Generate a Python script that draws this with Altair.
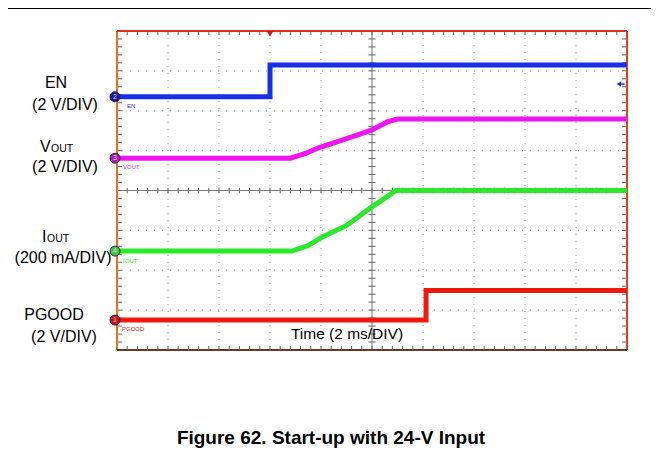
import altair as alt
import pandas as pd
import numpy as np

# ---- trace data (time in divisions of 2 ms, level in screen divisions) ----
channels = ["EN", "VOUT", "IOUT", "PGOOD"]
colors = ["#1530e6", "#f014f0", "#2ce82c", "#ee1a10"]
marker_colors = ["#1a1aa0", "#a020b0", "#3cc83c", "#c01818"]
marker_digits = ["2", "3", "4", "1"]

en_t = [0.0, 3.0, 3.0, 10.0]
en_v = [6.35, 6.35, 7.15, 7.15]

vout_t = [0.0, 3.40, 3.70, 3.95, 4.55, 5.00, 5.30, 5.50, 10.0]
vout_v = [4.81, 4.81, 4.93, 5.07, 5.32, 5.52, 5.72, 5.79, 5.79]

iout_t = [0.0, 3.43, 3.75, 4.02, 4.51, 5.00, 5.29, 5.47, 10.0]
iout_v = [2.48, 2.48, 2.62, 2.83, 3.13, 3.59, 3.84, 4.00, 4.00]

pg_t = [0.0, 6.06, 6.06, 10.0]
pg_v = [0.75, 0.75, 1.49, 1.49]

rows = []
for name, ts, vs in [("EN", en_t, en_v), ("VOUT", vout_t, vout_v),
                     ("IOUT", iout_t, iout_v), ("PGOOD", pg_t, pg_v)]:
    for i, (t, v) in enumerate(zip(ts, vs)):
        rows.append({"ch": name, "t": t, "v": v, "i": i})
traces = pd.DataFrame(rows)

start_levels = pd.DataFrame({"ch": channels,
                             "v": [en_v[0], vout_v[0], iout_v[0], pg_v[0]],
                             "d": marker_digits})

W, H = 510, 319
X = alt.Scale(domain=[0, 10], nice=False, zero=False)
Y = alt.Scale(domain=[0, 8], nice=False, zero=False)
CH = alt.Scale(domain=channels, range=colors)
MK = alt.Scale(domain=channels, range=marker_colors)

one = pd.DataFrame({"a": [0]})

# ---- graticule ----
gx = pd.DataFrame({"t": [1, 2, 3, 4, 6, 7, 8, 9]})
gy = pd.DataFrame({"v": [1, 2, 3, 5, 6, 7]})
grid_v = alt.Chart(gx).mark_rule(color="#a0a0a0", strokeDash=[1, 6], strokeWidth=1).encode(
    x=alt.X("t:Q", scale=X, axis=None))
grid_h = alt.Chart(gy).mark_rule(color="#a0a0a0", strokeDash=[1, 7], strokeWidth=1).encode(
    y=alt.Y("v:Q", scale=Y, axis=None))
center_v = alt.Chart(pd.DataFrame({"t": [5]})).mark_rule(color="#777777", strokeWidth=1).encode(
    x=alt.X("t:Q", scale=X, axis=None))
center_h = alt.Chart(pd.DataFrame({"v": [4]})).mark_rule(color="#777777", strokeWidth=1).encode(
    y=alt.Y("v:Q", scale=Y, axis=None))

segs = []
for k in np.arange(0.2, 10.0, 0.2):
    segs.append({"x": k, "x2": k, "y": 3.93, "y2": 4.07})
    segs.append({"x": k, "x2": k, "y": 7.9, "y2": 8.0})
    segs.append({"x": k, "x2": k, "y": 0.0, "y2": 0.1})
for k in np.arange(0.2, 8.0, 0.2):
    segs.append({"x": 4.93, "x2": 5.07, "y": k, "y2": k})
    segs.append({"x": 0.0, "x2": 0.1, "y": k, "y2": k})
    segs.append({"x": 9.9, "x2": 10.0, "y": k, "y2": k})
ticks = alt.Chart(pd.DataFrame(segs)).mark_rule(color="#666666", strokeWidth=1).encode(
    x=alt.X("x:Q", scale=X, axis=None), x2="x2:Q",
    y=alt.Y("y:Q", scale=Y, axis=None), y2="y2:Q")

# ---- frame ----
def edge(color, **enc):
    return alt.Chart(one).mark_rule(color=color, strokeWidth=2).encode(**enc)

frame = [
    edge("#e8701e", x=alt.value(0), y=alt.value(0), y2=alt.value(H)),
    edge("#e0301c", x=alt.value(0), x2=alt.value(W), y=alt.value(0)),
    edge("#e0401c", x=alt.value(W), y=alt.value(0), y2=alt.value(H)),
    edge("#6a3a20", x=alt.value(0), x2=alt.value(W), y=alt.value(H)),
]

# ---- traces ----
lines = alt.Chart(traces).mark_line(strokeWidth=5, interpolate="linear").encode(
    x=alt.X("t:Q", scale=X, axis=None),
    y=alt.Y("v:Q", scale=Y, axis=None),
    color=alt.Color("ch:N", scale=CH, legend=None),
    detail="ch:N",
    order="i:Q")

markers = alt.Chart(start_levels).mark_point(filled=True, size=100, opacity=1, shape="circle",
                                             stroke="#402040", strokeWidth=1).encode(
    x=alt.value(-2), y=alt.Y("v:Q", scale=Y, axis=None),
    fill=alt.Fill("ch:N", scale=MK, legend=None))
marker_txt = alt.Chart(start_levels).mark_text(fontSize=7, color="#dddddd", font="Liberation Sans").encode(
    x=alt.value(-2), y=alt.Y("v:Q", scale=Y, axis=None), text="d:N")

trig = alt.Chart(pd.DataFrame({"t": [en_t[1]]})).mark_point(
    shape="triangle-down", filled=True, size=40, color="#e01010", opacity=1).encode(
    x=alt.X("t:Q", scale=X, axis=None), y=alt.value(3))
arrow = alt.Chart(pd.DataFrame({"t": [9.84], "v": [6.67]})).mark_point(
    shape="triangle-left", filled=True, size=28, color="#2030e0", opacity=1).encode(
    x=alt.X("t:Q", scale=X, axis=None), y=alt.Y("v:Q", scale=Y, axis=None))
arrow_tail = alt.Chart(pd.DataFrame({"t": [9.84], "t2": [9.95], "v": [6.67]})).mark_rule(
    color="#2030e0", strokeWidth=1.5).encode(
    x=alt.X("t:Q", scale=X, axis=None), x2="t2:Q", y=alt.Y("v:Q", scale=Y, axis=None))

# ---- text ----
def label(txt, x, y, size=16, align="center", color="black", weight="normal", baseline="alphabetic"):
    return alt.Chart(one).mark_text(text=txt, fontSize=size, align=align, baseline=baseline,
                                    color=color, fontWeight=weight,
                                    font="Liberation Sans").encode(
        x=alt.value(x), y=alt.value(y))

texts = [
    label("EN", -61, 57),
    label("(2 V/DIV)", -52, 79),
    label("V", -77, 121, align="left"),
    label("OUT", -66, 121, size=10.5, align="left"),
    label("(2 V/DIV)", -52, 141),
    label("I", -75, 211, align="left"),
    label("OUT", -70, 211, size=10.5, align="left"),
    label("(200 mA/DIV)", -54, 232),
    label("PGOOD", -63, 289),
    label("(2 V/DIV)", -53, 311),
    label("Time (2 ms/DIV)", 230, 308, size=15.5),
    label("Figure 62. Start-up with 24-V Input", 214, 413, size=19, weight="bold"),
    label("EN", 10, 75, size=6, align="left", color=colors[0], baseline="middle"),
    label("VOUT", 6, 136, size=6, align="left", color=colors[1], baseline="middle"),
    label("IOUT", 6, 230, size=6, align="left", color=colors[2], baseline="middle"),
    label("PGOOD", 5, 298, size=6, align="left", color=colors[3], baseline="middle"),
]

topline = alt.Chart(one).mark_rule(color="black", strokeWidth=2).encode(
    x=alt.value(-109), x2=alt.value(W + 24), y=alt.value(-23))

chart = alt.layer(
    grid_v, grid_h, center_v, center_h, ticks, *frame, lines, markers, marker_txt,
    trig, arrow, arrow_tail, topline, *texts
).properties(
    width=W, height=H,
    autosize=alt.AutoSizeParams(type="none"),
    padding={"left": 109, "top": 23, "right": 24, "bottom": 113},
).configure_view(stroke=None)

chart.save("out.html", embed_options={"renderer": "svg", "actions": False})
